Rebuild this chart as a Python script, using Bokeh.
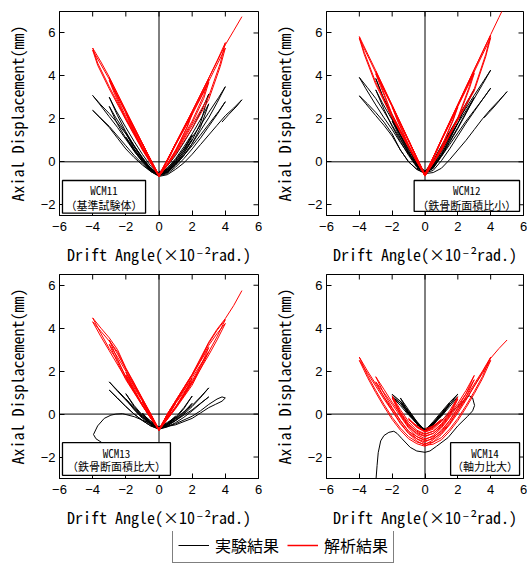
import math
from bokeh.plotting import figure
from bokeh.models import (Range1d, FixedTicker, Span, Label,
                          BoxAnnotation, Legend, LegendItem)
from bokeh.layouts import column, row
from bokeh.embed import file_html
from bokeh.resources import INLINE

# ---------------- data ----------------
X_TICKS = [-6, -4, -2, 0, 2, 4, 6]
Y_TICKS = [-2, 0, 2, 4, 6]
X_LABEL = "Drift Angle(×10⁻²rad.)"
Y_LABEL = "Axial Displacement(mm)"
LEGEND_LABELS = ["実験結果", "解析結果"]
PANEL_NAMES = ["WCM11", "WCM12", "WCM13", "WCM14"]
PANEL_NOTES = ["（基準試験体）", "（鉄骨断面積比小）", "（鉄骨断面積比大）", "（軸力比大）"]
X_RANGE = (-6, 6)
Y_RANGES = [(-2.5, 7), (-2.5, 7), (-3, 6.5), (-3, 6.5)]

# WCM11 experiment (drift angle, axial displacement)
wcm11_exp = [
    (0, -0.45), (0.5, -0.40), (0.25, -0.5), (0, -0.52), (-0.5, -0.38), (-0.25, -0.5), (0, -0.55),
    (0.5, -0.38), (1.0, 0.05), (0.6, -0.3), (0, -0.55), (-0.5, -0.35), (-1.0, 0.15), (-0.6, -0.25), (0, -0.55),
    (0.5, -0.4), (1.0, 0.0), (0.6, -0.32), (0, -0.57), (-0.5, -0.37), (-1.0, 0.1), (-0.6, -0.28), (0, -0.57),
    (0.5, -0.45), (1.0, -0.05), (1.5, 0.5), (2.0, 1.25), (1.5, 0.6), (1.0, 0.05), (0.5, -0.35), (0, -0.58),
    (-0.5, -0.4), (-1.0, 0.05), (-1.5, 0.6), (-2.0, 1.35), (-1.5, 0.7), (-1.0, 0.15), (-0.5, -0.3), (0, -0.6),
    (0.5, -0.47), (1.0, -0.1), (1.5, 0.4), (2.0, 1.05), (1.5, 0.5), (1.0, 0.0), (0.5, -0.4), (0, -0.6),
    (-0.5, -0.42), (-1.0, 0.0), (-1.5, 0.5), (-2.0, 1.15), (-1.5, 0.6), (-1.0, 0.1), (-0.5, -0.35), (0, -0.62),
    (0.5, -0.48), (1.0, -0.1), (1.5, 0.4), (2.0, 1.0), (2.5, 1.8), (3.0, 3.16), (2.6, 2.45), (2.0, 1.55),
    (1.5, 0.9), (1.0, 0.3), (0.5, -0.2), (0, -0.55),
    (-0.5, -0.35), (-1.0, 0.15), (-1.5, 0.75), (-2.0, 1.4), (-2.5, 2.15), (-3.0, 3.01), (-2.6, 2.4), (-2.0, 1.6),
    (-1.5, 0.95), (-1.0, 0.35), (-0.5, -0.2), (0, -0.58),
    (0.5, -0.5), (1.0, -0.15), (1.5, 0.3), (2.0, 0.85), (2.5, 1.6), (3.0, 2.7), (2.6, 2.1), (2.0, 1.3),
    (1.5, 0.7), (1.0, 0.15), (0.5, -0.3), (0, -0.6),
    (-0.5, -0.4), (-1.0, 0.05), (-1.5, 0.55), (-2.0, 1.1), (-2.5, 1.75), (-3.0, 2.58), (-2.6, 2.05), (-2.0, 1.35),
    (-1.5, 0.75), (-1.0, 0.2), (-0.5, -0.3), (0, -0.62),
    (0.5, -0.5), (1.0, -0.15), (1.5, 0.3), (2.0, 0.85), (2.5, 1.45), (3.0, 2.05), (3.5, 2.75), (4.0, 3.5),
    (3.6, 3.0), (3.0, 2.3), (2.5, 1.7), (2.0, 1.15), (1.5, 0.6), (1.0, 0.1), (0.5, -0.3), (0, -0.6),
    (-0.5, -0.35), (-1.0, 0.2), (-1.5, 0.75), (-2.0, 1.3), (-2.5, 1.8), (-3.0, 2.25), (-3.5, 2.65), (-4.0, 3.09),
    (-3.6, 2.7), (-3.0, 2.1), (-2.5, 1.6), (-2.0, 1.05), (-1.5, 0.5), (-1.0, 0.0), (-0.5, -0.4), (0, -0.65),
    (0.5, -0.55), (1.0, -0.25), (1.5, 0.15), (2.0, 0.6), (2.5, 1.1), (3.0, 1.65), (3.5, 2.2), (4.0, 2.8),
    (3.6, 2.35), (3.0, 1.75), (2.5, 1.25), (2.0, 0.75), (1.5, 0.3), (1.0, -0.1), (0.5, -0.45), (0, -0.65),
    (-0.5, -0.45), (-1.0, -0.15), (-1.5, 0.2), (-2.0, 0.6), (-2.5, 1.1), (-3.0, 1.6), (-3.5, 2.0), (-4.0, 2.4),
    (-3.6, 2.1), (-3.0, 1.65), (-2.5, 1.2), (-2.0, 0.75), (-1.5, 0.3), (-1.0, -0.1), (-0.5, -0.45), (0, -0.68),
    (0.5, -0.6), (1.0, -0.35), (1.5, -0.05), (2.0, 0.35), (2.5, 0.8), (3.0, 1.25), (3.5, 1.7), (4.0, 2.15),
    (4.5, 2.5), (5.0, 2.89), (4.7, 2.6), (4.2, 2.2), (3.8, 1.85),
]

# WCM11 analysis
wcm11_ana = [
    (0, -0.6), (0.5, 0.1), (1.0, 0.85), (0.7, 0.3), (0.3, -0.25), (0, -0.62),
    (-0.5, 0.1), (-1.0, 0.85), (-0.7, 0.35), (-0.3, -0.22), (0, -0.63),
    (0.5, 0.1), (1.0, 0.84), (1.5, 1.58), (2.0, 2.32), (1.7, 1.65), (1.3, 1.0), (1.0, 0.55), (0.5, -0.1), (0, -0.64),
    (-0.5, 0.1), (-1.0, 0.85), (-1.5, 1.6), (-2.0, 2.35), (-1.7, 1.75), (-1.3, 1.15), (-1.0, 0.7), (-0.5, 0.0),
    (0, -0.65),
    (1.0, 0.8), (2.0, 2.22), (1.7, 1.6), (1.0, 0.5), (0.5, -0.12), (0, -0.65),
    (-1.0, 0.82), (-2.0, 2.25), (-1.7, 1.7), (-1.0, 0.65), (-0.5, -0.02), (0, -0.66),
    (1.0, 0.83), (2.0, 2.3), (2.5, 3.05), (3.0, 3.85), (2.7, 3.1), (2.0, 1.9), (1.5, 1.2), (1.0, 0.5),
    (0.5, -0.12), (0, -0.66),
    (-1.0, 0.85), (-2.0, 2.35), (-2.5, 3.1), (-3.0, 3.9), (-2.7, 3.3), (-2.0, 2.1), (-1.5, 1.35), (-1.0, 0.65),
    (-0.5, -0.02), (0, -0.67),
    (1.0, 0.78), (2.0, 2.2), (3.0, 3.7), (2.7, 2.95), (2.0, 1.8), (1.0, 0.45), (0.5, -0.15), (0, -0.67),
    (-1.0, 0.8), (-2.0, 2.28), (-3.0, 3.8), (-2.7, 3.2), (-2.0, 2.0), (-1.0, 0.6), (-0.5, -0.05), (0, -0.68),
    (1.0, 0.85), (2.0, 2.35), (3.0, 3.9), (3.5, 4.7), (4.0, 5.55), (3.7, 4.6), (3.0, 3.05), (2.0, 1.7),
    (1.0, 0.4), (0.5, -0.15), (0, -0.68),
    (-1.0, 0.85), (-2.0, 2.4), (-3.0, 3.95), (-3.5, 4.65), (-4.0, 5.3), (-3.7, 4.6), (-3.0, 3.5), (-2.0, 2.0),
    (-1.0, 0.6), (-0.5, -0.05), (0, -0.69),
    (1.0, 0.8), (2.0, 2.25), (3.0, 3.75), (4.0, 5.3), (3.7, 4.45), (3.0, 2.9), (2.0, 1.55), (1.0, 0.35), (0, -0.69),
    (-1.0, 0.8), (-2.0, 2.3), (-3.0, 3.85), (-4.0, 5.2), (-3.7, 4.5), (-3.0, 3.4), (-2.0, 1.95), (-1.0, 0.55),
    (0, -0.7),
    (1.0, 0.85), (2.0, 2.35), (3.0, 3.9), (4.0, 5.45), (4.5, 6.1), (5.0, 6.76),
]

# WCM12 experiment
wcm12_exp = [
    (0, -0.42), (0.5, -0.3), (0, -0.45), (-0.5, -0.3), (0, -0.47),
    (0.5, -0.15), (1.0, 0.7), (0.5, -0.1), (0, -0.45), (-0.5, -0.1), (-1.0, 0.75), (-0.5, -0.05), (0, -0.47),
    (0.5, -0.18), (1.0, 0.62), (0.5, -0.15), (0, -0.48), (-0.5, -0.12), (-1.0, 0.68), (-0.5, -0.1), (0, -0.48),
    (0.5, -0.2), (1.0, 0.45), (1.5, 1.2), (2.0, 2.0), (1.5, 1.3), (1.0, 0.6), (0.5, -0.05), (0, -0.48),
    (-0.5, -0.15), (-1.0, 0.5), (-1.5, 1.25), (-2.0, 2.1), (-1.5, 1.4), (-1.0, 0.7), (-0.5, 0.0), (0, -0.48),
    (0.5, -0.25), (1.0, 0.35), (1.5, 1.05), (2.0, 1.8), (1.5, 1.15), (1.0, 0.5), (0.5, -0.1), (0, -0.5),
    (-0.5, -0.2), (-1.0, 0.4), (-1.5, 1.1), (-2.0, 1.9), (-1.5, 1.25), (-1.0, 0.6), (-0.5, -0.05), (0, -0.5),
    (0.5, -0.25), (1.0, 0.35), (1.5, 1.05), (2.0, 1.8), (2.5, 2.6), (3.0, 3.38), (2.6, 2.85), (2.0, 2.05),
    (1.5, 1.4), (1.0, 0.75), (0.5, 0.05), (0, -0.45),
    (-0.5, -0.2), (-1.0, 0.45), (-1.5, 1.2), (-2.0, 2.0), (-2.5, 2.9), (-3.0, 3.88), (-2.6, 3.1), (-2.0, 2.2),
    (-1.5, 1.45), (-1.0, 0.75), (-0.5, 0.0), (0, -0.5),
    (0.5, -0.3), (1.0, 0.25), (1.5, 0.9), (2.0, 1.55), (2.5, 2.25), (3.0, 3.0), (2.6, 2.5), (2.0, 1.8),
    (1.5, 1.15), (1.0, 0.5), (0.5, -0.1), (0, -0.5),
    (-0.5, -0.25), (-1.0, 0.3), (-1.5, 0.95), (-2.0, 1.65), (-2.5, 2.45), (-3.0, 3.35), (-2.6, 2.75), (-2.0, 1.95),
    (-1.5, 1.25), (-1.0, 0.6), (-0.5, -0.05), (0, -0.52),
    (0.5, -0.3), (1.0, 0.3), (1.5, 0.95), (2.0, 1.6), (2.5, 2.3), (3.0, 2.95), (3.5, 3.6), (4.0, 4.27),
    (3.6, 3.8), (3.0, 3.1), (2.5, 2.5), (2.0, 1.95), (1.5, 1.35), (1.0, 0.7), (0.5, 0.0), (0, -0.5),
    (-0.5, -0.2), (-1.0, 0.4), (-1.5, 1.05), (-2.0, 1.7), (-2.5, 2.35), (-3.0, 2.95), (-3.5, 3.45), (-4.0, 3.93),
    (-3.6, 3.4), (-3.0, 2.65), (-2.5, 2.05), (-2.0, 1.5), (-1.5, 0.9), (-1.0, 0.35), (-0.5, -0.15), (0, -0.52),
    (0.5, -0.4), (1.0, 0.05), (1.5, 0.6), (2.0, 1.2), (2.5, 1.8), (3.0, 2.35), (3.5, 2.9), (4.0, 3.43),
    (3.6, 3.0), (3.0, 2.4), (2.5, 1.9), (2.0, 1.35), (1.5, 0.8), (1.0, 0.25), (0.5, -0.2), (0, -0.52),
    (-0.5, -0.35), (-1.0, 0.0), (-1.5, 0.55), (-2.0, 1.3), (-2.5, 1.85), (-3.0, 2.3), (-3.5, 2.7), (-4.0, 3.07),
    (-3.6, 2.7), (-3.0, 2.15), (-2.5, 1.7), (-2.0, 1.2), (-1.5, 0.55), (-1.0, 0.0), (-0.5, -0.35), (0, -0.55),
    (0.5, -0.5), (1.0, -0.3), (1.5, 0.1), (2.0, 0.55), (2.5, 1.0), (3.0, 1.5), (3.5, 2.0), (4.0, 2.45),
    (4.5, 2.85), (5.0, 3.27), (4.7, 3.0), (4.2, 2.55), (3.9, 2.3), (3.6, 2.05),
]

# WCM12 analysis
wcm12_ana = [
    (0, -0.55), (0.5, 0.22), (1.0, 1.0), (0.7, 0.45), (0.3, -0.2), (0, -0.58),
    (-0.5, 0.2), (-1.0, 1.0), (-0.7, 0.5), (-0.3, -0.15), (0, -0.6),
    (1.0, 1.02), (1.5, 1.82), (2.0, 2.62), (1.7, 1.95), (1.0, 0.7), (0.5, 0.0), (0, -0.61),
    (-1.0, 1.0), (-1.5, 1.8), (-2.0, 2.62), (-1.7, 2.0), (-1.0, 0.8), (-0.5, 0.05), (0, -0.62),
    (1.0, 0.98), (2.0, 2.55), (1.7, 1.9), (1.0, 0.65), (0, -0.62),
    (-1.0, 0.96), (-2.0, 2.55), (-1.7, 1.95), (-1.0, 0.75), (0, -0.63),
    (1.0, 1.03), (2.0, 2.65), (3.0, 4.25), (2.7, 3.5), (2.0, 2.05), (1.0, 0.6), (0.5, -0.05), (0, -0.63),
    (-1.0, 1.0), (-2.0, 2.62), (-3.0, 4.22), (-2.7, 3.6), (-2.0, 2.2), (-1.0, 0.75), (-0.5, 0.02), (0, -0.64),
    (1.0, 1.0), (2.0, 2.58), (3.0, 4.12), (2.7, 3.4), (2.0, 1.98), (1.0, 0.55), (0, -0.64),
    (-1.0, 0.98), (-2.0, 2.56), (-3.0, 4.1), (-2.7, 3.5), (-2.0, 2.15), (-1.0, 0.7), (0, -0.65),
    (1.0, 1.05), (2.0, 2.68), (3.0, 4.3), (4.0, 5.9), (3.7, 5.0), (3.0, 3.4), (2.0, 2.0), (1.0, 0.55), (0, -0.65),
    (-1.0, 1.02), (-2.0, 2.64), (-3.0, 4.25), (-4.0, 5.83), (-3.7, 5.1), (-3.0, 3.7), (-2.0, 2.1), (-1.0, 0.7),
    (0, -0.66),
    (1.0, 1.0), (2.0, 2.6), (3.0, 4.2), (4.0, 5.78), (3.7, 4.9), (3.0, 3.3), (2.0, 1.95), (1.0, 0.5), (0, -0.66),
    (-1.0, 0.98), (-2.0, 2.58), (-3.0, 4.15), (-4.0, 5.75), (-3.7, 5.0), (-3.0, 3.6), (-2.0, 2.05), (-1.0, 0.65),
    (0, -0.67),
    (1.0, 1.02), (2.0, 2.66), (3.0, 4.3), (4.0, 5.92), (4.5, 6.72), (5.0, 7.5),
]

# WCM13 experiment
wcm13_exp = [
    (0, -0.58), (0.5, -0.55), (0, -0.6), (-0.5, -0.52), (0, -0.62),
    (0.5, -0.45), (1.0, -0.1), (0.5, -0.45), (0, -0.62), (-0.5, -0.4), (-1.0, 0.05), (-0.5, -0.38), (0, -0.63),
    (1.0, -0.15), (0.5, -0.48), (0, -0.64), (-1.0, 0.0), (-0.5, -0.42), (0, -0.64),
    (0.5, -0.45), (1.0, -0.15), (1.5, 0.3), (2.0, 0.84), (1.5, 0.25), (1.0, -0.2), (0.5, -0.5), (0, -0.65),
    (-0.5, -0.45), (-1.0, -0.05), (-1.5, 0.4), (-2.0, 0.95), (-1.5, 0.35), (-1.0, -0.1), (-0.5, -0.45), (0, -0.66),
    (1.0, -0.25), (1.5, 0.1), (2.0, 0.5), (1.5, 0.05), (1.0, -0.3), (0.5, -0.55), (0, -0.67),
    (-1.0, -0.15), (-1.5, 0.25), (-2.0, 0.7), (-1.5, 0.2), (-1.0, -0.2), (-0.5, -0.5), (0, -0.68),
    (0.5, -0.5), (1.0, -0.2), (1.5, 0.1), (2.0, 0.4), (2.5, 0.8), (3.0, 1.22), (2.6, 0.85), (2.0, 0.35),
    (1.5, 0.0), (1.0, -0.3), (0.5, -0.55), (0, -0.68),
    (-0.5, -0.45), (-1.0, -0.1), (-1.5, 0.3), (-2.0, 0.7), (-2.5, 1.1), (-3.0, 1.5), (-2.6, 1.15), (-2.0, 0.65),
    (-1.5, 0.25), (-1.0, -0.15), (-0.5, -0.45), (0, -0.68),
    (1.0, -0.3), (1.5, -0.05), (2.0, 0.2), (2.5, 0.5), (3.0, 0.8), (2.6, 0.55), (2.0, 0.15), (1.5, -0.15),
    (1.0, -0.4), (0.5, -0.6), (0, -0.7),
    (-0.5, -0.55), (-1.0, -0.3), (-1.5, 0.0), (-2.0, 0.35), (-2.5, 0.75), (-3.0, 1.12), (-2.6, 0.8), (-2.0, 0.35),
    (-1.5, 0.0), (-1.0, -0.3), (-0.5, -0.55), (0, -0.7),
    (1.0, -0.45), (2.0, -0.1), (2.5, 0.15), (3.0, 0.45), (3.5, 0.7), (3.8, 0.8), (4.0, 0.75), (3.8, 0.6),
    (3.4, 0.45), (3.0, 0.3), (2.5, 0.05), (2.0, -0.2), (1.0, -0.5), (0, -0.65),
    (-0.7, -0.38), (-1.5, -0.12), (-2.2, 0.02), (-2.6, 0.0), (-2.9, -0.05), (-3.3, -0.2), (-3.7, -0.55),
    (-3.95, -0.95), (-3.8, -1.15), (-3.5, -1.3), (-3.33, -1.4),
]

# WCM13 analysis
wcm13_ana = [
    (0, -0.68), (0.5, -0.05), (1.0, 0.55), (0.5, -0.15), (0, -0.7), (-0.5, -0.05), (-1.0, 0.6), (-0.5, -0.12),
    (0, -0.7),
    (1.0, 0.5), (0.5, -0.18), (0, -0.71), (-1.0, 0.55), (-0.5, -0.15), (0, -0.71),
    (0.5, -0.02), (1.0, 0.55), (1.5, 1.1), (2.0, 1.65), (1.5, 0.95), (1.0, 0.35), (0.5, -0.2), (0, -0.72),
    (-0.5, 0.0), (-1.0, 0.65), (-1.5, 1.3), (-2.0, 1.95), (-1.5, 1.15), (-1.0, 0.45), (-0.5, -0.15), (0, -0.72),
    (1.0, 0.5), (1.5, 1.02), (2.0, 1.52), (1.5, 0.9), (1.0, 0.3), (0.5, -0.22), (0, -0.73),
    (-1.0, 0.6), (-1.5, 1.22), (-2.0, 1.82), (-1.5, 1.1), (-1.0, 0.42), (-0.5, -0.18), (0, -0.73),
    (0.5, 0.0), (1.0, 0.6), (1.5, 1.2), (2.0, 1.8), (2.5, 2.45), (3.0, 3.1), (2.5, 2.2), (2.0, 1.45),
    (1.5, 0.85), (1.0, 0.3), (0.5, -0.22), (0, -0.74),
    (-0.5, 0.0), (-1.0, 0.7), (-1.5, 1.4), (-2.0, 2.1), (-2.5, 2.8), (-3.0, 3.45), (-2.5, 2.55), (-2.0, 1.7),
    (-1.5, 1.05), (-1.0, 0.4), (-0.5, -0.18), (0, -0.74),
    (1.0, 0.55), (2.0, 1.7), (2.5, 2.3), (3.0, 2.9), (2.5, 2.1), (2.0, 1.35), (1.0, 0.25), (0.5, -0.25), (0, -0.75),
    (-1.0, 0.65), (-2.0, 2.0), (-2.5, 2.65), (-3.0, 3.25), (-2.5, 2.4), (-2.0, 1.6), (-1.0, 0.38), (-0.5, -0.2),
    (0, -0.75),
    (0.5, 0.0), (1.0, 0.62), (2.0, 1.85), (2.5, 2.55), (3.0, 3.3), (3.5, 3.9), (4.0, 4.4), (3.5, 3.6),
    (3.0, 2.9), (2.5, 2.25), (2.0, 1.55), (1.0, 0.32), (0.5, -0.22), (0, -0.75),
    (-0.5, 0.02), (-1.0, 0.72), (-1.5, 1.45), (-2.0, 2.15), (-2.5, 3.0), (-3.0, 3.55), (-3.5, 4.0), (-4.0, 4.48),
    (-3.5, 3.75), (-3.0, 3.05), (-2.5, 2.5), (-2.0, 1.75), (-1.0, 0.42), (-0.5, -0.18), (0, -0.76),
    (1.0, 0.58), (2.0, 1.8), (3.0, 3.2), (3.5, 3.75), (4.0, 4.22), (3.5, 3.45), (3.0, 2.75), (2.0, 1.45),
    (1.0, 0.28), (0, -0.76),
    (-1.0, 0.7), (-2.0, 2.1), (-2.5, 2.9), (-3.0, 3.4), (-3.5, 3.85), (-4.0, 4.3), (-3.5, 3.6), (-3.0, 2.95),
    (-2.0, 1.65), (-1.0, 0.4), (0, -0.77),
    (0.5, 0.0), (1.0, 0.62), (2.0, 1.85), (3.0, 3.35), (3.5, 3.95), (4.0, 4.45), (4.5, 5.05), (5.0, 5.75),
]

# WCM14 experiment
wcm14_exp = [
    (0, -0.68), (0.5, -0.55), (0, -0.7), (-0.5, -0.5), (0, -0.72),
    (0.5, -0.5), (1.0, 0.0), (0.5, -0.45), (0, -0.72), (-0.5, -0.45), (-1.0, 0.1), (-0.5, -0.4), (0, -0.74),
    (1.0, -0.05), (0.5, -0.48), (0, -0.75), (-1.0, 0.05), (-0.5, -0.42), (0, -0.75),
    (0.5, -0.5), (1.0, -0.05), (1.5, 0.5), (1.0, 0.05), (0.5, -0.4), (0, -0.75),
    (-0.5, -0.45), (-1.0, 0.05), (-1.5, 0.75), (-1.0, 0.2), (-0.5, -0.35), (0, -0.76),
    (1.0, -0.1), (1.5, 0.45), (1.0, 0.0), (0.5, -0.45), (0, -0.77),
    (-1.0, 0.0), (-1.5, 0.6), (-1.0, 0.1), (-0.5, -0.4), (0, -0.77),
    (0.5, -0.5), (1.0, -0.05), (1.5, 0.45), (2.0, 0.93), (1.5, 0.55), (1.0, 0.1), (0.5, -0.35), (0, -0.76),
    (-0.5, -0.45), (-1.0, 0.0), (-1.5, 0.5), (-2.0, 0.92), (-1.5, 0.6), (-1.0, 0.15), (-0.5, -0.35), (0, -0.78),
    (1.0, -0.1), (1.5, 0.35), (2.0, 0.8), (1.5, 0.45), (1.0, 0.0), (0.5, -0.45), (0, -0.8),
    (-1.0, -0.05), (-1.5, 0.4), (-2.0, 0.8), (-1.5, 0.5), (-1.0, 0.05), (-0.5, -0.45), (0, -0.8),
    (0.5, -0.6), (1.0, -0.3), (1.5, 0.05), (2.0, 0.35), (2.4, 0.65), (2.7, 0.85), (2.9, 0.75), (3.02, 0.4),
    (2.9, 0.15), (2.6, -0.1), (2.0, -0.55), (1.4, -1.1), (0.7, -1.5), (0.3, -1.72), (0.0, -1.78),
    (-0.5, -1.72), (-0.9, -1.55), (-1.4, -1.15), (-1.7, -0.9), (-1.9, -0.8), (-2.2, -0.85), (-2.5, -1.0),
    (-2.7, -1.25), (-2.85, -1.8), (-2.92, -2.4), (-3.0, -3.2),
]

# WCM14 analysis
wcm14_ana = [
    (0, -0.7), (0.5, -0.55), (1.0, -0.25), (0.5, -0.6), (0, -0.78), (-0.5, -0.6), (-1.0, -0.2), (-0.5, -0.58),
    (0, -0.8),
    (1.0, -0.3), (0.5, -0.65), (0, -0.82), (-1.0, -0.25), (-0.5, -0.62), (0, -0.84),
    (0.5, -0.7), (1.0, -0.35), (1.5, 0.15), (2.0, 0.8), (1.5, 0.0), (1.0, -0.5), (0.5, -0.8), (0, -0.92),
    (-0.5, -0.75), (-1.0, -0.35), (-1.5, 0.2), (-2.0, 0.85), (-1.5, 0.05), (-1.0, -0.5), (-0.5, -0.8), (0, -0.95),
    (0.5, -0.8), (1.0, -0.45), (1.5, 0.05), (2.0, 0.7), (1.5, -0.1), (1.0, -0.6), (0.5, -0.9), (0, -1.02),
    (-0.5, -0.85), (-1.0, -0.45), (-1.5, 0.1), (-2.0, 0.75), (-1.5, -0.05), (-1.0, -0.6), (-0.5, -0.9), (0, -1.05),
    (0.5, -0.9), (1.0, -0.55), (1.5, -0.05), (2.0, 0.5), (2.5, 1.1), (3.0, 1.8), (2.5, 0.95), (2.0, 0.3),
    (1.5, -0.3), (1.0, -0.8), (0.5, -1.05), (0, -1.15),
    (-0.5, -0.95), (-1.0, -0.55), (-1.5, 0.0), (-2.0, 0.55), (-2.5, 1.15), (-3.0, 1.74), (-2.5, 0.95), (-2.0, 0.3),
    (-1.5, -0.3), (-1.0, -0.8), (-0.5, -1.05), (0, -1.2),
    (0.5, -1.0), (1.0, -0.65), (1.5, -0.15), (2.0, 0.4), (2.5, 0.95), (3.0, 1.6), (2.5, 0.8), (2.0, 0.15),
    (1.5, -0.45), (1.0, -0.9), (0.5, -1.15), (0, -1.25),
    (-0.5, -1.05), (-1.0, -0.65), (-1.5, -0.1), (-2.0, 0.45), (-2.5, 1.0), (-3.0, 1.5), (-2.5, 0.8), (-2.0, 0.15),
    (-1.5, -0.45), (-1.0, -0.9), (-0.5, -1.15), (0, -1.3),
    (0.5, -1.1), (1.0, -0.75), (1.5, -0.3), (2.0, 0.25), (2.5, 0.8), (3.0, 1.4), (3.5, 2.0), (4.0, 2.65),
    (3.5, 1.75), (3.0, 1.05), (2.5, 0.4), (2.0, -0.2), (1.5, -0.7), (1.0, -1.1), (0.5, -1.3), (0, -1.38),
    (-0.5, -1.15), (-1.0, -0.8), (-1.5, -0.3), (-2.0, 0.25), (-2.5, 0.8), (-3.0, 1.4), (-3.5, 2.0), (-4.0, 2.65),
    (-3.5, 1.8), (-3.0, 1.1), (-2.5, 0.45), (-2.0, -0.15), (-1.5, -0.65), (-1.0, -1.05), (-0.5, -1.3), (0, -1.42),
    (0.5, -1.2), (1.0, -0.85), (1.5, -0.4), (2.0, 0.15), (2.5, 0.7), (3.0, 1.3), (3.5, 1.9), (4.0, 2.5),
    (3.5, 1.65), (3.0, 0.95), (2.5, 0.3), (2.0, -0.3), (1.5, -0.8), (1.0, -1.2), (0.5, -1.4), (0, -1.46),
    (-0.5, -1.25), (-1.0, -0.9), (-1.5, -0.4), (-2.0, 0.15), (-2.5, 0.7), (-3.0, 1.3), (-3.5, 1.9), (-4.0, 2.5),
    (-3.5, 1.7), (-3.0, 1.0), (-2.5, 0.35), (-2.0, -0.25), (-1.5, -0.75), (-1.0, -1.15), (-0.5, -1.38), (0, -1.5),
    (0.5, -1.3), (1.0, -0.95), (1.5, -0.5), (2.0, 0.05), (2.5, 0.65), (3.0, 1.3), (3.5, 1.95), (4.0, 2.6),
    (4.5, 3.05), (5.0, 3.45),
]

EXP = [wcm11_exp, wcm12_exp, wcm13_exp, wcm14_exp]
ANA = [wcm11_ana, wcm12_ana, wcm13_ana, wcm14_ana]

# ---------------- styling / layout ----------------
MONO = "Noto Sans Mono CJK JP, DejaVu Sans Mono"
CJK = "Noto Sans CJK JP"
TICK_FONT = "Liberation Sans"
RED = "#ff0000"

# note box (left, right, top, bottom) and text anchor (x, line1 y, line2 y), data units
NOTE_BOX = [
    (-5.82, -0.81, -0.87, -2.39, -3.32, -1.33, -2.0),
    (-0.66, 5.76, -0.87, -2.31, 2.55, -1.33, -2.0),
    (-5.82, 0.69, -1.33, -2.85, -2.56, -1.82, -2.44),
    (1.56, 5.76, -1.33, -2.85, 3.66, -1.82, -2.44),
]

GEOM = [  # width, height, border left, right, top, bottom
    (268, 268, 59, 10, 11, 50),
    (259, 268, 55, 4, 11, 50),
    (268, 263, 59, 10, 6, 50),
    (259, 263, 55, 4, 6, 50),
]


def fmt(v):
    return ("\u2212%d" % (-v)) if v < 0 else "%d" % v


def style_axis(ax, ticks):
    ax.ticker = FixedTicker(ticks=ticks)
    ax.major_tick_in = 5
    ax.major_tick_out = 0
    ax.minor_tick_line_color = None
    ax.axis_line_color = "black"
    ax.major_tick_line_color = "black"
    ax.major_label_overrides = {t: fmt(t) for t in ticks}
    ax.major_label_text_font = TICK_FONT
    ax.major_label_text_font_size = "13px"
    ax.major_label_text_color = "black"
    ax.axis_label_text_font = MONO
    ax.axis_label_text_font_size = "16px"
    ax.axis_label_text_font_style = "normal"
    ax.axis_label_text_color = "black"


def make_panel(i):
    w, h, bl, br, bt, bb = GEOM[i]
    y0, y1 = Y_RANGES[i]
    p = figure(width=w, height=h, x_range=Range1d(*X_RANGE), y_range=Range1d(y0, y1),
               output_backend="svg", toolbar_location=None,
               min_border_left=bl, min_border_right=br, min_border_top=bt, min_border_bottom=bb)
    p.grid.visible = False
    p.outline_line_color = "black"
    p.outline_line_width = 1
    p.background_fill_color = "white"

    style_axis(p.xaxis[0], X_TICKS)
    style_axis(p.yaxis[0], Y_TICKS)
    p.xaxis[0].major_label_standoff = 6
    p.yaxis[0].major_label_standoff = 4
    p.xaxis[0].axis_label = X_LABEL
    p.yaxis[0].axis_label = Y_LABEL
    p.xaxis[0].axis_label_standoff = 8
    p.yaxis[0].axis_label_standoff = 9

    # inward ticks on the top and right frame edges (half of each dash is clipped by the frame)
    p.scatter(X_TICKS, [y1] * len(X_TICKS), marker="dash", size=10, angle=math.pi / 2,
              line_color="black", line_width=1)
    p.scatter([X_RANGE[1]] * len(Y_TICKS), Y_TICKS, marker="dash", size=10,
              line_color="black", line_width=1)

    p.add_layout(Span(location=0, dimension="height", line_color="black", line_width=1, level="underlay"))
    p.add_layout(Span(location=0, dimension="width", line_color="black", line_width=1, level="underlay"))

    p.line([pt[0] for pt in EXP[i]], [pt[1] for pt in EXP[i]], line_color="black", line_width=1)
    p.line([pt[0] for pt in ANA[i]], [pt[1] for pt in ANA[i]], line_color=RED, line_width=1)

    l, r, t, b, tx, ty1, ty2 = NOTE_BOX[i]
    p.add_layout(BoxAnnotation(left=l, right=r, top=t, bottom=b, fill_color="white", fill_alpha=1,
                               line_color="black", line_width=1.3, line_alpha=1))
    p.add_layout(Label(x=tx, y=ty1, text=PANEL_NAMES[i], text_align="center", text_baseline="middle",
                       text_font=MONO, text_font_size="11px", text_color="black"))
    p.add_layout(Label(x=tx, y=ty2, text=PANEL_NOTES[i], text_align="center", text_baseline="middle",
                       text_font=CJK, text_font_size="11px", text_color="black"))
    return p


panels = [make_panel(i) for i in range(4)]

# legend strip: renderers carry the WCM11 series but the view range shows none of it
lp = figure(width=527, height=32, x_range=Range1d(100, 101), y_range=Range1d(100, 101),
            output_backend="svg", toolbar_location=None, x_axis_type=None, y_axis_type=None,
            min_border=0)
lp.grid.visible = False
lp.outline_line_color = None
r_exp = lp.line([pt[0] for pt in wcm11_exp], [pt[1] for pt in wcm11_exp], line_color="black", line_width=1)
r_ana = lp.line([pt[0] for pt in wcm11_ana], [pt[1] for pt in wcm11_ana], line_color=RED, line_width=1.5)
legend = Legend(items=[LegendItem(label=LEGEND_LABELS[0], renderers=[r_exp]),
                       LegendItem(label=LEGEND_LABELS[1], renderers=[r_ana])],
                orientation="horizontal", location=(172, 0),
                border_line_color="black", border_line_width=1.3, background_fill_alpha=1,
                label_text_font=CJK, label_text_font_size="16px", label_text_color="black",
                glyph_width=31, glyph_height=16, label_height=16, label_standoff=6,
                spacing=8, padding=5, margin=0)
lp.add_layout(legend, "center")

layout = column(row(panels[0], panels[1]), row(panels[2], panels[3]), lp)
open("out.html", "w").write(file_html(layout, INLINE))
